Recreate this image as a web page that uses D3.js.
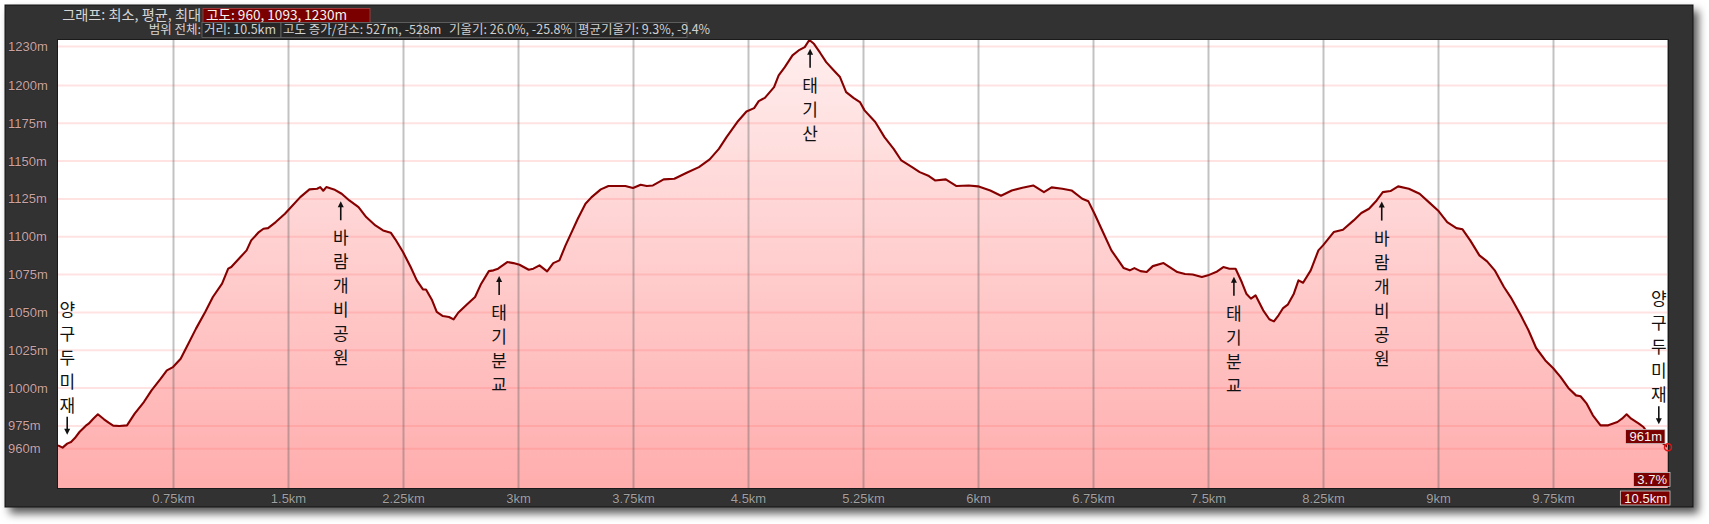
<!DOCTYPE html>
<html><head><meta charset="utf-8">
<script src="https://cdn.jsdelivr.net/npm/d3@7"></script>
<style>
html,body{margin:0;padding:0;background:#fff;}
svg{display:block;}
</style>
</head><body>
<svg id="chart" width="1709" height="524"></svg>
<script>
// ---------- DATA ----------
const distanceKm = [0.00,0.03,0.06,0.085,0.11,0.14,0.18,0.20,0.23,0.26,0.30,0.33,0.36,0.40,0.45,0.50,0.56,0.61,0.67,0.71,0.75,0.80,0.85,0.90,0.96,1.01,1.07,1.11,1.13,1.19,1.23,1.26,1.31,1.34,1.37,1.42,1.48,1.51,1.58,1.64,1.69,1.71,1.73,1.75,1.80,1.85,1.90,1.96,2.01,2.07,2.12,2.17,2.20,2.25,2.30,2.34,2.38,2.40,2.44,2.47,2.51,2.55,2.58,2.61,2.665,2.72,2.76,2.81,2.84,2.87,2.93,2.97,3.01,3.07,3.10,3.14,3.19,3.23,3.27,3.31,3.35,3.39,3.44,3.48,3.54,3.59,3.64,3.70,3.75,3.80,3.84,3.88,3.95,4.02,4.10,4.18,4.25,4.31,4.36,4.43,4.49,4.54,4.57,4.61,4.67,4.70,4.74,4.79,4.83,4.87,4.90,4.93,4.97,5.01,5.06,5.10,5.14,5.19,5.23,5.26,5.33,5.39,5.45,5.50,5.57,5.62,5.68,5.72,5.79,5.86,5.94,6.00,6.08,6.15,6.22,6.29,6.36,6.43,6.48,6.55,6.61,6.68,6.72,6.76,6.82,6.87,6.92,6.95,6.99,7.02,7.06,7.10,7.14,7.21,7.25,7.30,7.35,7.40,7.46,7.50,7.56,7.60,7.64,7.68,7.72,7.75,7.78,7.81,7.86,7.90,7.93,7.96,7.99,8.02,8.06,8.09,8.12,8.17,8.22,8.25,8.32,8.38,8.45,8.50,8.55,8.60,8.64,8.69,8.74,8.81,8.88,8.94,9.00,9.06,9.12,9.16,9.21,9.27,9.32,9.37,9.43,9.48,9.54,9.59,9.64,9.70,9.75,9.80,9.85,9.90,9.93,9.97,10.01,10.06,10.11,10.17,10.20,10.23,10.26,10.31,10.34,10.37,10.43,10.47,10.50];
const elevationM = [962.2,960.7,963.3,964.4,967.0,971.0,975.0,976.5,979.8,982.7,979.4,977.2,975.2,975.0,975.4,983.1,990.8,998.5,1006.2,1011.7,1013.9,1019.4,1029.3,1039.3,1050.3,1060.2,1069.0,1078.9,1080.0,1086.6,1091.0,1097.6,1103.1,1105.3,1105.7,1109.7,1115.2,1118.5,1126.2,1131.3,1131.7,1132.8,1130.4,1132.8,1131.3,1128.4,1124.0,1119.6,1113.0,1107.5,1104.2,1102.7,1098.3,1089.9,1080.0,1071.2,1065.2,1065.2,1058.0,1050.3,1047.6,1047.0,1045.4,1049.8,1055.1,1060.2,1069.0,1077.3,1077.8,1078.9,1083.3,1082.6,1081.5,1078.2,1078.9,1081.1,1077.1,1082.6,1084.4,1094.3,1103.1,1111.9,1121.8,1126.2,1131.3,1133.5,1133.5,1133.5,1132.2,1134.4,1133.5,1133.9,1137.9,1138.3,1142.3,1146.0,1151.1,1158.1,1165.8,1175.8,1182.8,1185.0,1189.6,1191.8,1198.9,1206.6,1212.1,1219.8,1223.1,1225.3,1230.0,1227.5,1221.6,1215.4,1209.9,1205.5,1195.6,1191.6,1189.0,1183.5,1175.8,1165.8,1158.1,1150.4,1146.0,1142.7,1140.1,1137.2,1137.9,1133.5,1133.9,1133.3,1130.6,1127.1,1130.6,1132.4,1133.9,1129.5,1132.6,1131.7,1130.6,1125.1,1123.4,1115.2,1102.0,1091.0,1083.7,1079.3,1077.8,1079.3,1077.3,1076.7,1080.6,1082.6,1080.0,1076.7,1075.4,1075.1,1073.4,1074.5,1077.1,1080.0,1078.9,1078.9,1070.1,1062.4,1059.1,1061.3,1051.4,1045.5,1044.1,1048.1,1052.9,1055.1,1062.4,1071.2,1069.6,1077.8,1091.0,1094.3,1103.1,1104.6,1110.8,1115.7,1118.5,1124.0,1129.5,1130.2,1133.3,1131.7,1128.4,1122.9,1117.4,1109.7,1105.7,1104.9,1097.6,1087.7,1083.7,1077.8,1066.8,1059.1,1048.1,1038.2,1026.5,1018.3,1013.3,1007.3,1000.1,995.2,994.6,989.7,982.0,975.4,975.4,977.6,979.8,982.7,979.8,976.5,974.3,969.9,966.2,963.3,961.0];

const xTickValues = [0.75,1.5,2.25,3,3.75,4.5,5.25,6,6.75,7.5,8.25,9,9.75];
const xTickLabels = ["0.75km","1.5km","2.25km","3km","3.75km","4.5km","5.25km","6km","6.75km","7.5km","8.25km","9km","9.75km"];
const yTickValues = [960,975,1000,1025,1050,1075,1100,1125,1150,1175,1200,1230];
const yTickLabels = ["960m","975m","1000m","1025m","1050m","1075m","1100m","1125m","1150m","1175m","1200m","1230m"];

const annotationKm = [0.06,1.844,2.877,4.905,7.669,8.633,10.44];
const annotationNames = ["양구두미재","바람개비공원","태기분교","태기산","태기분교","바람개비공원","양구두미재"];
const annotationDirection = ["down","up","up","up","up","up","down"];

const headerRow1Label = "그래프: 최소, 평균, 최대";
const headerRow1Box = "고도: 960, 1093, 1230m";
const headerRow2Label = "범위 전체:";
const headerRow2Items = ["거리: 10.5km","고도 증가/감소: 527m, -528m","기울기: 26.0%, -25.8%","평균기울기: 9.3%, -9.4%"];

const endElevationLabel = "961m";
const endGradeLabel = "3.7%";
const endDistanceLabel = "10.5km";
const xDomain = [0, 10.5];
const yDomain = [934, 1230];

// ---------- LAYOUT ----------
const svg = d3.select("#chart");
const panel = {x:5, y:5, w:1688, h:502};
const plot = {left:58, right:1668, top:40, bottom:488};
const FONT = "'Liberation Sans', Arial, sans-serif";
const KFONT = "'Noto Sans CJK KR', 'Noto Sans', sans-serif";

const defs = svg.append("defs");
const shadow = defs.append("filter").attr("id","shadow").attr("x","-5%").attr("y","-5%").attr("width","115%").attr("height","125%");
shadow.append("feDropShadow").attr("dx",5).attr("dy",6).attr("stdDeviation",4).attr("flood-color","#000").attr("flood-opacity",0.65);

const grad = defs.append("linearGradient").attr("id","areaGrad")
  .attr("gradientUnits","userSpaceOnUse").attr("x1",0).attr("x2",0).attr("y1",plot.top).attr("y2",plot.bottom);
grad.append("stop").attr("offset","0%").attr("stop-color","#ffeeee");
grad.append("stop").attr("offset","100%").attr("stop-color","#ffadad");

defs.append("clipPath").attr("id","plotClip").append("rect")
  .attr("x",plot.left).attr("y",plot.top).attr("width",plot.right-plot.left).attr("height",plot.bottom-plot.top);

// panel
svg.append("rect").attr("x",panel.x).attr("y",panel.y).attr("width",panel.w).attr("height",panel.h)
  .attr("fill","#333333").attr("stroke","#111").attr("stroke-width",1).attr("filter","url(#shadow)");

// plot background
svg.append("rect").attr("x",plot.left).attr("y",plot.top).attr("width",plot.right-plot.left).attr("height",plot.bottom-plot.top)
  .attr("fill","#ffffff");

const x = d3.scaleLinear().domain(xDomain).range([plot.left, plot.right]);
const y = d3.scaleLinear().domain(yDomain).range([plot.bottom, plot.top]);
const data = distanceKm.map((d,i)=>({km:d, m:elevationM[i]}));

const g = svg.append("g").attr("clip-path","url(#plotClip)");

// area
g.append("path").datum(data)
  .attr("d", d3.area().x(d=>x(d.km)).y0(plot.bottom).y1(d=>y(d.m)))
  .attr("fill","url(#areaGrad)");

// grid positions (max line drawn slightly inside the top edge, as in the source)
const yGridPos = v => Math.max(y(v), plot.top + 6.5);

g.append("g").selectAll("line").data(yTickValues).join("line")
  .attr("x1",plot.left).attr("x2",plot.right)
  .attr("y1",d=>yGridPos(d)).attr("y2",d=>yGridPos(d))
  .attr("stroke","rgba(255,90,90,0.17)").attr("stroke-width",2);

const xGrid = g.append("g").attr("transform",`translate(0,${plot.bottom})`)
  .call(d3.axisBottom(x).tickValues(xTickValues).tickSize(-(plot.bottom-plot.top)).tickFormat(""));
xGrid.select(".domain").remove();
xGrid.selectAll("line").attr("stroke","rgba(95,95,95,0.38)").attr("stroke-width",2);

// line
g.append("path").datum(data)
  .attr("d", d3.line().x(d=>x(d.km)).y(d=>y(d.m)))
  .attr("fill","none").attr("stroke","#860000").attr("stroke-width",2.1).attr("stroke-linejoin","round");

// plot border
svg.append("rect").attr("x",plot.left-0.5).attr("y",plot.top-0.5).attr("width",plot.right-plot.left+1).attr("height",plot.bottom-plot.top+1)
  .attr("fill","none").attr("stroke","#1a1a1a").attr("stroke-width",1);
svg.append("line").attr("x1",plot.right-0.5).attr("x2",plot.right-0.5).attr("y1",plot.top).attr("y2",plot.bottom)
  .attr("stroke","#999").attr("stroke-width",1);

// y labels
svg.append("g").selectAll("text").data(yTickValues).join("text")
  .attr("x",8).attr("y",d=>yGridPos(d)).attr("dy","0.35em")
  .attr("font-family",FONT).attr("font-size",13).attr("fill","#c9a3a3")
  .attr("stroke","#1c1c1c").attr("stroke-width",0.6).attr("paint-order","stroke")
  .text((d,i)=>yTickLabels[i]);

// x labels
const xAxis = svg.append("g").attr("transform",`translate(0,${plot.bottom})`)
  .call(d3.axisBottom(x).tickValues(xTickValues).tickSize(0).tickPadding(6).tickFormat((d,i)=>xTickLabels[i]));
xAxis.select(".domain").remove();
xAxis.selectAll("text").attr("font-family",FONT).attr("font-size",13).attr("fill","#a0a0a0")
  .attr("stroke","#1c1c1c").attr("stroke-width",0.6).attr("paint-order","stroke");

// annotations
const elevAt = km => {
  const i = d3.bisector(d=>d.km).left(data, km);
  if (i<=0) return data[0].m;
  if (i>=data.length) return data[data.length-1].m;
  const a=data[i-1], b=data[i], t=(km-a.km)/(b.km-a.km);
  return a.m + t*(b.m-a.m);
};
const ann = svg.append("g");
annotationKm.forEach((km,i)=>{
  const cx = x(km);
  const ly = y(elevAt(km));
  const chars = Array.from(annotationNames[i]);
  const grp = ann.append("g");
  if (annotationDirection[i]==="up") {
    const tip = ly + 8;
    grp.append("line").attr("x1",cx).attr("x2",cx).attr("y1",tip+3).attr("y2",tip+19).attr("stroke","#111").attr("stroke-width",1.6);
    grp.append("path").attr("d",`M${cx},${tip} L${cx-3},${tip+6} L${cx+3},${tip+6} Z`).attr("fill","#111");
    chars.forEach((c,j)=>{
      grp.append("text").attr("x",cx).attr("y",tip+37+j*24).attr("dy","0.36em").attr("text-anchor","middle")
        .attr("font-family",KFONT).attr("font-size",17).attr("fill","#111").text(c);
    });
  } else {
    const isEnd = i===annotationKm.length-1;
    const tip = isEnd ? ly - 16 : ly - 9;
    grp.append("line").attr("x1",cx).attr("x2",cx).attr("y1",tip-3).attr("y2",tip-18).attr("stroke","#111").attr("stroke-width",1.6);
    grp.append("path").attr("d",`M${cx},${tip} L${cx-3},${tip-6} L${cx+3},${tip-6} Z`).attr("fill","#111");
    const n = chars.length;
    chars.forEach((c,j)=>{
      grp.append("text").attr("x",cx).attr("y",tip-29-(n-1-j)*24).attr("dy","0.36em").attr("text-anchor","middle")
        .attr("font-family",KFONT).attr("font-size",17).attr("fill","#111").text(c);
    });
  }
});

// end marker & badges
const last = data[data.length-1];
svg.append("circle").attr("cx",x(last.km)).attr("cy",y(last.m)).attr("r",3.5)
  .attr("fill","none").attr("stroke","#e01515").attr("stroke-width",1.5);

function badge(xr, yc, txt, minW) {
  const t = svg.append("text").attr("font-family",FONT).attr("font-size",13).attr("fill","#f4f4f4")
    .attr("text-anchor","end").attr("x",xr-3).attr("y",yc).attr("dy","0.36em").text(txt);
  const w = Math.max(t.node().getComputedTextLength()+7, minW||0);
  svg.insert("rect", () => t.node()).attr("x",xr-w).attr("y",yc-7).attr("width",w).attr("height",14)
    .attr("fill","#7a0000").attr("stroke","#c9c9c9").attr("stroke-width",0.8);
}
badge(x(last.km)-3, y(last.m)-10.5, endElevationLabel);
badge(plot.right+2, 479.5, endGradeLabel);
badge(plot.right+2, 498, endDistanceLabel);

// header
const hdr = svg.append("g").attr("font-family",KFONT);
hdr.append("text").attr("x",201).attr("y",15).attr("dy","0.35em").attr("text-anchor","end").attr("font-size",14.2)
  .attr("fill","#d6d6d6").text(headerRow1Label);
hdr.append("rect").attr("x",203).attr("y",8.5).attr("width",167).attr("height",14).attr("fill","#7a0000").attr("stroke","#b04040").attr("stroke-width",0.8);
hdr.append("text").attr("x",206).attr("y",15.5).attr("dy","0.35em").attr("font-size",13.6).attr("fill","#f2f2f2").text(headerRow1Box);

hdr.append("text").attr("x",201).attr("y",30).attr("dy","0.35em").attr("text-anchor","end").attr("font-size",12.5)
  .attr("fill","#d6d6d6").text(headerRow2Label);
const boxX = [202, 281, 420, 576];
const boxR = [281, 420, 576, 687];
const textX = [204, 283, 449, 578];
headerRow2Items.forEach((s,i)=>{
  hdr.append("rect").attr("x",boxX[i]).attr("y",22.5).attr("width",boxR[i]-boxX[i]).attr("height",15)
    .attr("fill","#262626").attr("stroke","#6a6a6a").attr("stroke-width",0.8);
});
headerRow2Items.forEach((s,i)=>{
  hdr.append("text").attr("x",textX[i]).attr("y",30).attr("dy","0.35em").attr("font-size",12.5).attr("fill","#d0d0d0").text(s);
});
</script>
</body></html>
